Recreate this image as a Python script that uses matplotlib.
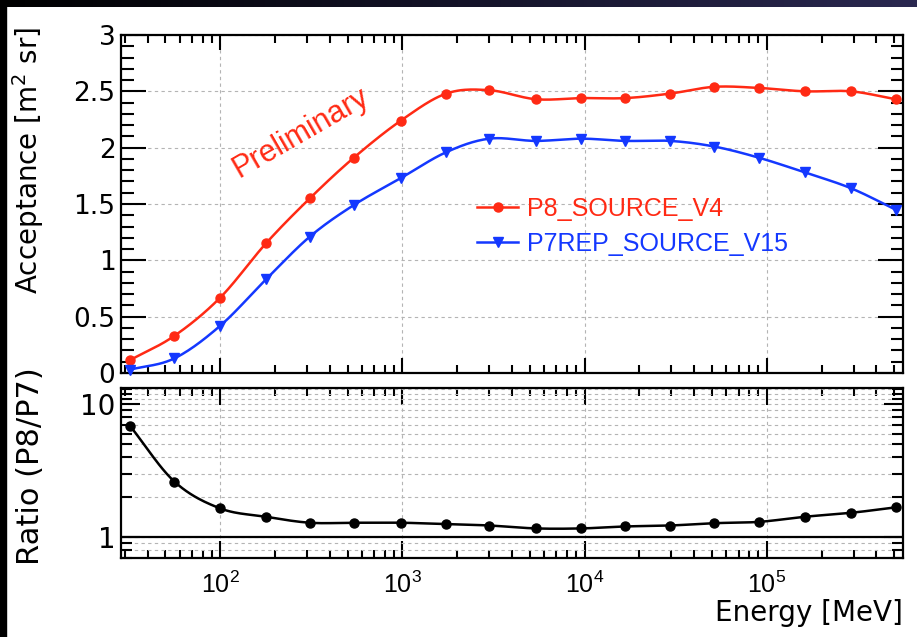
import numpy as np
import matplotlib
matplotlib.use("Agg")
import matplotlib.pyplot as plt
from matplotlib.ticker import FixedLocator, FuncFormatter, LogLocator, NullFormatter, LogFormatterSciNotation
from matplotlib.lines import Line2D
from matplotlib.patches import Rectangle
from matplotlib.colors import LinearSegmentedColormap

plt.rcParams['font.family'] = ['Liberation Sans', 'DejaVu Sans']
plt.rcParams['mathtext.fontset'] = 'custom'
plt.rcParams['mathtext.rm'] = 'Liberation Sans'
plt.rcParams['mathtext.it'] = 'Liberation Sans:italic'

WIDE = ['DejaVu Sans']

# Energy bin centres [MeV]
energy = [32, 56, 100, 178, 310, 540, 980, 1740, 3000, 5400, 9600,
          16700, 29500, 51500, 91000, 162000, 290000, 510000]

# Acceptance [m^2 sr]
acc_p8 = [0.115, 0.33, 0.67, 1.15, 1.55, 1.91, 2.24, 2.48, 2.51, 2.43, 2.44,
          2.44, 2.48, 2.54, 2.53, 2.50, 2.50, 2.43]
acc_p7 = [0.03, 0.13, 0.42, 0.83, 1.21, 1.49, 1.73, 1.96, 2.08, 2.06, 2.08,
          2.06, 2.06, 2.01, 1.91, 1.78, 1.64, 1.45]

# Ratio P8/P7
ratio = [6.83, 2.61, 1.64, 1.42, 1.28, 1.28, 1.28, 1.25, 1.22, 1.16, 1.16,
         1.20, 1.22, 1.27, 1.30, 1.42, 1.52, 1.67]

label_p8 = "P8_SOURCE_V4"
label_p7 = "P7REP_SOURCE_V15"

RED = '#ff2a14'
BLUE = '#1438ff'
GRID = '#b4b4b4'


def catmull_rom(u, v, n=24):
    """Smooth curve through the points (u, v) in plotting space."""
    u = np.asarray(u, float)
    v = np.asarray(v, float)
    P = np.column_stack([u, v])
    P = np.vstack([2 * P[0] - P[1], P, 2 * P[-1] - P[-2]])
    t = np.linspace(0, 1, n)[:, None]
    out = []
    for i in range(1, len(P) - 2):
        p0, p1, p2, p3 = P[i - 1], P[i], P[i + 1], P[i + 2]
        seg = 0.5 * ((2 * p1) + (-p0 + p2) * t + (2 * p0 - 5 * p1 + 4 * p2 - p3) * t ** 2
                     + (-p0 + 3 * p1 - 3 * p2 + p3) * t ** 3)
        out.append(seg if i == 1 else seg[1:])
    out = np.vstack(out)
    return out[:, 0], out[:, 1]


W, H = 917, 637
fig = plt.figure(figsize=(W / 100, H / 100), dpi=100)
fig.patch.set_facecolor('white')

L, R = 121 / W, 903 / W
ax = fig.add_axes([L, 1 - 373 / H, R - L, (373 - 35) / H])
axr = fig.add_axes([L, 1 - 558 / H, R - L, (558 - 388) / H])

xlim = (28.5, 5.6e5)

for a in (ax, axr):
    a.set_xscale('log')
    a.set_xlim(*xlim)
    for s in a.spines.values():
        s.set_linewidth(1.6)
    a.xaxis.set_major_locator(LogLocator(base=10, numticks=20))
    a.xaxis.set_minor_locator(LogLocator(base=10, subs=np.arange(2, 10), numticks=20))
    a.tick_params(which='both', direction='in', top=True, right=True, width=1.5, colors='black')
    a.grid(True, which='major', axis='x', color=GRID, linestyle=(0, (3, 3)), linewidth=0.8)

# ---- upper panel: acceptance ----
ax.set_ylim(0, 3)
ax.yaxis.set_major_locator(FixedLocator(np.arange(0, 3.01, 0.5)))
ax.yaxis.set_minor_locator(FixedLocator(np.arange(0, 3.01, 0.1)))
ax.yaxis.set_major_formatter(FuncFormatter(lambda v, p: '%g' % v))
ax.tick_params(axis='y', which='major', length=18, pad=4)
ax.tick_params(axis='y', which='minor', length=9)
ax.tick_params(axis='x', which='major', length=11)
ax.tick_params(axis='x', which='minor', length=6)
for t in ax.get_yticklabels():
    t.set_fontfamily(WIDE)
    t.set_fontsize(19)
ax.xaxis.set_major_formatter(NullFormatter())
ax.grid(True, which='major', axis='y', color=GRID, linestyle=(0, (3, 3)), linewidth=0.8)

lx = np.log10(energy)
for vals, col, mk, ms in ((acc_p8, RED, 'o', 6.5), (acc_p7, BLUE, 'v', 7)):
    cu, cv = catmull_rom(lx, vals)
    ax.plot(10 ** cu, cv, color=col, lw=1.8, zorder=3, clip_on=False)
    ax.plot(energy, vals, linestyle='none', marker=mk, ms=ms, color=col, zorder=4, clip_on=False)

handles = [Line2D([], [], color=RED, lw=1.8, marker='o', ms=6.5),
           Line2D([], [], color=BLUE, lw=1.8, marker='v', ms=7)]
leg = ax.legend(handles, [label_p8, label_p7], loc='upper left',
                bbox_to_anchor=((477 - 121) / 782, (373 - 197) / 338),
                frameon=False, fontsize=18, handlelength=1.65, handletextpad=0.35,
                labelspacing=0.42, borderpad=0, borderaxespad=0)
for txt, col in zip(leg.get_texts(), (RED, BLUE)):
    txt.set_color(col)

ax.text(276, 2.13, "Preliminary", color=RED, fontsize=22, rotation=30,
        ha='center', va='center', rotation_mode='anchor', zorder=5)

# ---- lower panel: ratio ----
axr.set_yscale('log')
axr.set_ylim(0.695, 13.2)
axr.yaxis.set_major_locator(FixedLocator([1, 10]))
axr.yaxis.set_minor_locator(FixedLocator([0.7, 0.8, 0.9, 2, 3, 4, 5, 6, 7, 8, 9, 11, 12, 13]))
axr.yaxis.set_major_formatter(FuncFormatter(lambda v, p: '%g' % v))
axr.yaxis.set_minor_formatter(NullFormatter())
axr.xaxis.set_major_formatter(LogFormatterSciNotation())
axr.tick_params(axis='y', which='major', length=14, pad=4)
axr.tick_params(axis='y', which='minor', length=8)
axr.tick_params(axis='x', which='major', length=12, labelsize=18, pad=10)
axr.tick_params(axis='x', which='minor', length=6)
for t in axr.get_yticklabels():
    t.set_fontfamily(WIDE)
    t.set_fontsize(20)
axr.grid(True, which='both', axis='y', color=GRID, linestyle=(0, (3, 3)), linewidth=0.8)
axr.axhline(1, color='black', lw=1.6, zorder=2)

cu, cv = catmull_rom(lx, np.log10(ratio))
axr.plot(10 ** cu, 10 ** cv, color='black', lw=1.8, zorder=3)
axr.plot(energy, ratio, linestyle='none', marker='o', ms=6.5, color='black', zorder=4, clip_on=False)

# ---- axis titles ----
fig.text(903 / W, 1 - 613 / H, "Energy [MeV]", ha='right', va='center', fontsize=20, family=WIDE)
fig.text(28 / W, 1 - 27 / H, r"Acceptance [m$^{\mathdefault{2}}$ sr]", rotation=90,
         ha='center', va='top', fontsize=20, family=WIDE)
fig.text(31 / W, 1 - 466 / H, "Ratio (P8/P7)", rotation=90, ha='center', va='center',
         fontsize=22, family=WIDE)

# ---- dark slide border ----
fig.add_artist(Rectangle((0, 0), 6 / W, 1, transform=fig.transFigure, color='black', zorder=10))
band = fig.add_axes([0, 1 - 7 / H, 1, 7 / H], zorder=11)
cmap = LinearSegmentedColormap.from_list('band', ['#000000', '#141328', '#2a2850'])
band.imshow(np.linspace(0, 1, 256)[None, :], aspect='auto', cmap=cmap, extent=(0, 1, 0, 1))
band.set_axis_off()

fig.savefig('out.png', dpi=100)
